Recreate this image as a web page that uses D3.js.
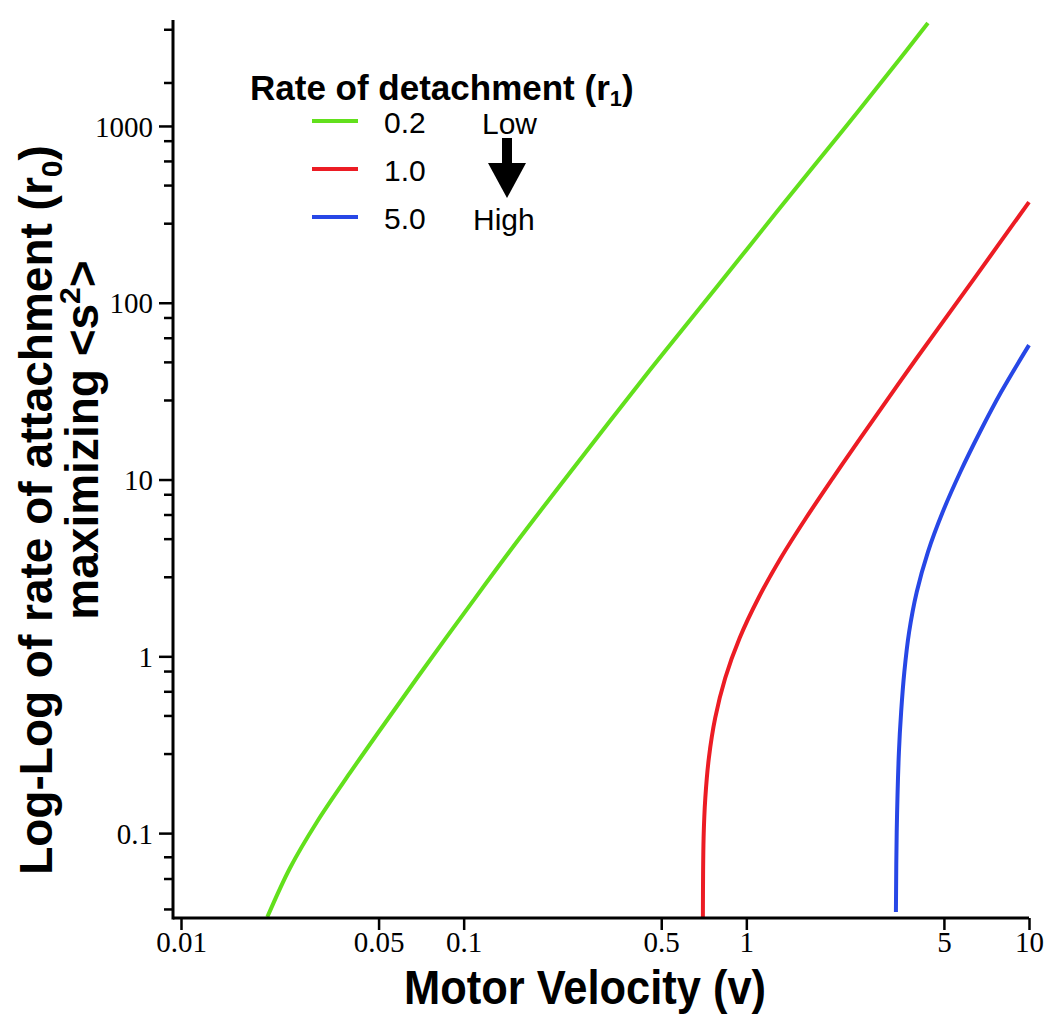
<!DOCTYPE html>
<html><head><meta charset="utf-8">
<script src="https://cdn.jsdelivr.net/npm/d3@7"></script>
<style>body{margin:0;background:#fff}svg{display:block}</style>
</head><body>
<svg id="c" width="1050" height="1020"></svg>
<script>
// ---- data ----
const seriesNames = ["0.2", "1.0", "5.0"];
const seriesColors = ["#62e01c", "#ec1c24", "#2747e6"];
const greenV = [0.0202, 0.0243, 0.0303, 0.0396, 0.0506, 0.0684, 0.108, 0.154, 0.264, 0.456, 0.787, 1.28, 2.20, 3.49, 4.39];
const greenR = [0.0335, 0.0635, 0.116, 0.219, 0.383, 0.754, 2.06, 4.43, 13.6, 41.6, 123, 326, 948, 2390, 3820];
const redV = [0.702, 0.706, 0.716, 0.737, 0.776, 0.842, 0.947, 1.104, 1.324, 1.626, 2.023, 2.532, 4.010, 6.416, 10];
const redR = [0.0334, 0.0938, 0.158, 0.266, 0.448, 0.754, 1.269, 2.137, 3.597, 6.058, 10.20, 17.17, 48.67, 137.9, 371];
const blueV = [3.382, 3.404, 3.466, 3.529, 3.622, 3.766, 4.007, 4.389, 4.951, 5.715, 6.705, 7.968, 10];
const blueR = [0.0358, 0.1015, 0.288, 0.484, 0.815, 1.372, 2.310, 3.890, 6.550, 11.03, 18.57, 31.26, 57.6];
const xTicks = [0.01, 0.05, 0.1, 0.5, 1, 5, 10];
const xTickLabels = ["0.01", "0.05", "0.1", "0.5", "1", "5", "10"];
const yTicks = [0.1, 1, 10, 100, 1000];
const yTickLabels = ["0.1", "1", "10", "100", "1000"];
const yMinorTicks = [3500, 1750, 820, 630, 460, 280, 82, 63, 46, 28, 8.2, 6.3, 4.6, 2.8, 0.82, 0.63, 0.46, 0.28, 0.073, 0.055, 0.037];

// ---- layout ----
const svg = d3.select("#c");
const x = d3.scaleLog().domain([0.01, 10]).range([181, 1029]);
const y = d3.scaleLog().domain([0.0331, 3975]).range([918, 20]);
const axisX0 = 173, axisY0 = 918;

const series = [
  {v: greenV, r: greenR},
  {v: redV, r: redR},
  {v: blueV, r: blueR}
];

const line = d3.line().x(d => x(d[0])).y(d => y(d[1])).curve(d3.curveCatmullRom.alpha(0.5));
series.forEach((s, i) => {
  svg.append("path")
    .attr("d", line(s.v.map((v, j) => [v, s.r[j]])))
    .attr("fill", "none").attr("stroke", seriesColors[i])
    .attr("stroke-width", 4).attr("stroke-linecap", "butt");
});

// axes
const gx = svg.append("g").attr("transform", `translate(0,${axisY0})`);
gx.call(d3.axisBottom(x).tickValues(xTicks).tickFormat((d, i) => xTickLabels[i]).tickSize(12).tickSizeOuter(0));
gx.select(".domain").remove();
gx.append("line").attr("x1", axisX0).attr("x2", x(10)).attr("y1", 0).attr("y2", 0).attr("stroke", "#000").attr("stroke-width", 3);
gx.selectAll(".tick line").attr("stroke", "#000").attr("stroke-width", 2.5);
gx.selectAll(".tick text").attr("font-family", "Liberation Serif, Times New Roman, serif").attr("font-size", 29).attr("fill", "#000").attr("dy", "0.95em").attr("y", 6);

const gy = svg.append("g").attr("transform", `translate(${axisX0},0)`);
gy.call(d3.axisLeft(y).tickValues(yTicks).tickFormat((d, i) => yTickLabels[i]).tickSize(14).tickSizeOuter(0));
gy.select(".domain").remove();
gy.append("line").attr("x1", 0).attr("x2", 0).attr("y1", 20).attr("y2", axisY0 + 1.5).attr("stroke", "#000").attr("stroke-width", 3);
gy.selectAll(".tick line").attr("stroke", "#000").attr("stroke-width", 2.5);
gy.selectAll(".tick text").attr("font-family", "Liberation Serif, Times New Roman, serif").attr("font-size", 29).attr("fill", "#000").attr("x", -20).attr("dy", "0.35em");
gy.selectAll(".minor").data(yMinorTicks).enter().append("line").attr("class", "minor")
  .attr("x1", -9).attr("x2", 0).attr("y1", d => y(d)).attr("y2", d => y(d))
  .attr("stroke", "#000").attr("stroke-width", 2.5);

// axis titles
const bold = "Liberation Sans, Arial, Helvetica, sans-serif";
svg.append("text").attr("x", 585).attr("y", 1004).attr("text-anchor", "middle")
  .attr("font-family", bold).attr("font-weight", "bold").attr("font-size", 49)
  .attr("textLength", 362).attr("lengthAdjust", "spacingAndGlyphs")
  .text("Motor Velocity (v)");

const t1 = svg.append("text").attr("transform", "translate(52,510) rotate(-90)").attr("text-anchor", "middle")
  .attr("font-family", bold).attr("font-weight", "bold").attr("font-size", 46);
t1.append("tspan").text("Log-Log of rate of attachment (r");
t1.append("tspan").attr("font-size", 30).attr("dy", 10).text("0");
t1.append("tspan").attr("dy", -10).text(")");

const t2 = svg.append("text").attr("transform", "translate(98,440) rotate(-90)").attr("text-anchor", "middle")
  .attr("font-family", bold).attr("font-weight", "bold").attr("font-size", 46);
t2.append("tspan").text("maximizing <s");
t2.append("tspan").attr("font-size", 30).attr("dy", -18).text("2");
t2.append("tspan").attr("dy", 18).text(">");

// legend
const lt = svg.append("text").attr("x", 250).attr("y", 100)
  .attr("font-family", bold).attr("font-weight", "bold").attr("font-size", 35);
lt.append("tspan").text("Rate of detachment (r");
lt.append("tspan").attr("font-size", 22).attr("dy", 6).text("1");
lt.append("tspan").attr("dy", -6).text(")");

const legendY = [121, 169, 217];
seriesNames.forEach((n, i) => {
  svg.append("line").attr("x1", 312).attr("x2", 358).attr("y1", legendY[i]).attr("y2", legendY[i])
    .attr("stroke", seriesColors[i]).attr("stroke-width", 4);
  svg.append("text").attr("x", 384).attr("y", legendY[i] + 12)
    .attr("font-family", bold).attr("font-size", 30).attr("fill", "#000").text(n);
});
svg.append("text").attr("x", 482).attr("y", legendY[0] + 13).attr("font-family", bold).attr("font-size", 30).text("Low");
svg.append("text").attr("x", 473).attr("y", legendY[2] + 13).attr("font-family", bold).attr("font-size", 30).text("High");
svg.append("rect").attr("x", 502).attr("y", 138).attr("width", 10).attr("height", 27).attr("fill", "#000");
svg.append("path").attr("d", "M488,163 L526,163 L507,198 Z").attr("fill", "#000");
</script>
</body></html>
